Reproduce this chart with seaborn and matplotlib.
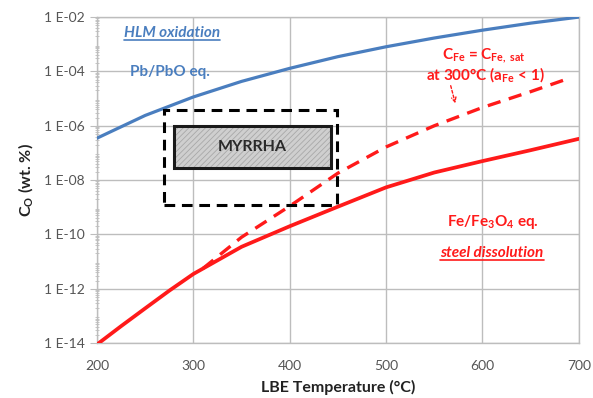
import numpy as np
import pandas as pd
import matplotlib
matplotlib.use("Agg")
import matplotlib.pyplot as plt
import seaborn as sns
from matplotlib.patches import Rectangle

# ---------------- data ----------------
temp_pb = [200, 250, 300, 350, 400, 450, 500, 550, 600, 650, 700]
co_pbo = [3.5e-7, 2.4e-6, 1.15e-5, 4.3e-5, 1.3e-4, 3.5e-4, 8.1e-4, 1.7e-3, 3.3e-3, 6.0e-3, 1.0e-2]

temp_fe = [200, 225, 250, 275, 300, 350, 400, 450, 500, 550, 600, 650, 700]
co_fe3o4 = [8.9e-15, 4.2e-14, 1.9e-13, 8.5e-13, 3.5e-12, 3.5e-11, 2.0e-10, 1.05e-9,
            5.4e-9, 1.9e-8, 5.0e-8, 1.26e-7, 3.3e-7]

temp_sat = [310, 350, 400, 450, 500, 550, 600, 650, 690]
co_sat = [5.6e-12, 7.9e-11, 1.1e-9, 1.8e-8, 1.66e-7, 1.0e-6, 4.7e-6, 1.8e-5, 5.6e-5]

myrrha_T = (280, 443)
myrrha_C = (2.8e-8, 1.0e-6)
window_T = (270, 449)
window_C = (1.2e-9, 3.8e-6)

x_ticks = [200, 300, 400, 500, 600, 700]
y_ticks = [1e-14, 1e-12, 1e-10, 1e-8, 1e-6, 1e-4, 1e-2]
y_labels = ["1 E-14", "1 E-12", "1 E-10", "1 E-08", "1 E-06", "1 E-04", "1 E-02"]

# ---------------- style ----------------
sns.set_theme(style="whitegrid")
plt.rcParams["font.family"] = ["Lato", "DejaVu Sans"]
plt.rcParams["mathtext.fontset"] = "custom"
plt.rcParams["mathtext.rm"] = "Lato"
plt.rcParams["mathtext.bf"] = "Lato:bold"
plt.rcParams["mathtext.it"] = "Lato:italic"
plt.rcParams["hatch.linewidth"] = 0.6

BLUE = "#4a7ebf"
RED = "#ff1a1a"
GRID = "#bdbdbd"
TXT = "#555555"

fig = plt.figure(figsize=(5.93, 3.98), dpi=100)
ax = fig.add_axes([0.1636, 0.138, 0.8124, 0.819])

df_pb = pd.DataFrame({"T": temp_pb, "C": co_pbo})
df_fe = pd.DataFrame({"T": temp_fe, "C": co_fe3o4})
df_sat = pd.DataFrame({"T": temp_sat, "C": co_sat})

sns.lineplot(data=df_pb, x="T", y="C", ax=ax, color=BLUE, lw=2.3, zorder=4)
sns.lineplot(data=df_fe, x="T", y="C", ax=ax, color=RED, lw=2.7, zorder=4)
sns.lineplot(data=df_sat, x="T", y="C", ax=ax, color=RED, lw=2.4, zorder=4,
             linestyle=(0, (4, 2.6)))

ax.set_yscale("log")
ax.set_xlim(200, 700)
ax.set_ylim(1e-14, 1e-2)
ax.set_xticks(x_ticks)
ax.set_xticklabels([str(t) for t in x_ticks])
ax.set_yticks(y_ticks)
ax.set_yticklabels(y_labels)
ax.yaxis.set_minor_locator(matplotlib.ticker.LogLocator(base=10, subs=np.arange(2, 10), numticks=50))
ax.yaxis.set_minor_formatter(matplotlib.ticker.NullFormatter())
ax.grid(True, which="major", color=GRID, lw=1.0)
ax.grid(False, which="minor")
ax.tick_params(axis="y", which="major", left=True, length=5, width=0.8, color=GRID,
               labelsize=10, labelcolor=TXT, pad=4)
ax.tick_params(axis="y", which="minor", left=True, length=3, width=0.6, color=GRID,
               direction="inout")
ax.tick_params(axis="x", which="major", bottom=False, labelsize=10, labelcolor=TXT, pad=6)
for s in ax.spines.values():
    s.set_color(GRID)
    s.set_linewidth(1.0)

ax.set_xlabel("LBE Temperature (°C)", fontsize=11.5, fontweight="bold", color="#222222", labelpad=6)
ax.set_ylabel(r"C$_\mathbf{O}$ (wt. %)", fontsize=11.5, fontweight="bold", color="#222222", labelpad=6)

# MYRRHA boxes
ax.add_patch(Rectangle((window_T[0], window_C[0]), window_T[1] - window_T[0], window_C[1] - window_C[0],
                       fill=False, ec="black", lw=2.2, ls=(0, (3.5, 2.2)), zorder=5))
ax.add_patch(Rectangle((myrrha_T[0], myrrha_C[0]), myrrha_T[1] - myrrha_T[0], myrrha_C[1] - myrrha_C[0],
                       fc="#cfcfcf", ec="#a8a8a8", lw=0, hatch="//////", zorder=5))
ax.add_patch(Rectangle((myrrha_T[0], myrrha_C[0]), myrrha_T[1] - myrrha_T[0], myrrha_C[1] - myrrha_C[0],
                       fill=False, ec="#1a1a1a", lw=2.2, zorder=5.5))
ax.text((myrrha_T[0] + myrrha_T[1]) / 2, np.sqrt(myrrha_C[0] * myrrha_C[1]), "MYRRHA",
        ha="center", va="center", fontsize=11.5, fontweight="bold", color="#2a2a2a", zorder=6)

# annotations
def fig_text(x, y, s, color, italic=False, underline=False, size=11):
    t = fig.text(x / 593, 1 - y / 398, s, ha="center", va="center", fontsize=size,
                 fontweight="bold", style="italic" if italic else "normal", color=color, zorder=7)
    if underline:
        fig.canvas.draw()
        bb = t.get_window_extent()
        yy = bb.y0 + 0.5
        fig.add_artist(plt.Line2D([bb.x0 / 593, bb.x1 / 593], [yy / 398, yy / 398],
                                  color=color, lw=1.2))
    return t

fig_text(172, 33, "HLM oxidation", BLUE, italic=True, underline=True)
fig_text(170, 72, "Pb/PbO eq.", BLUE)
fig_text(484, 56, r"C$_\mathbf{Fe}$ = C$_\mathbf{Fe,\ sat}$", RED)
fig_text(485, 75, r"at 300°C (a$_\mathbf{Fe}$ < 1)", RED)
fig_text(493, 222, r"Fe/Fe$_\mathbf{3}$O$_\mathbf{4}$ eq.", RED)
fig_text(492, 253, "steel dissolution", RED, italic=True, underline=True)

fig.add_artist(matplotlib.patches.FancyArrowPatch((450 / 593, 1 - 83 / 398), (456 / 593, 1 - 106 / 398),
                                                  transform=fig.transFigure, arrowstyle="->",
                                                  mutation_scale=8, color=RED, lw=1.0, ls=(0, (2, 1.5))))

fig.savefig("out.png", dpi=100)
